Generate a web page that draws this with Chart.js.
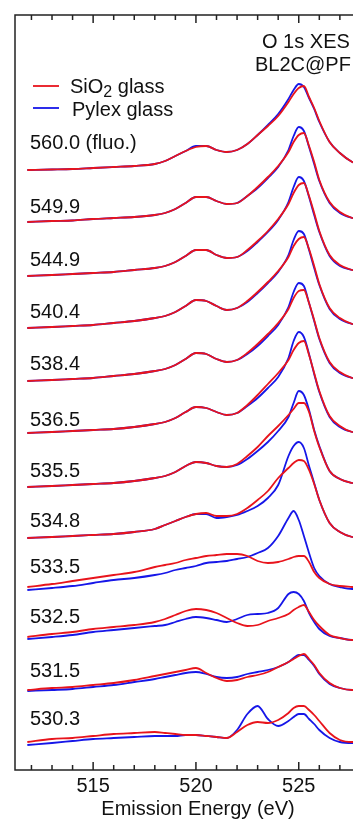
<!DOCTYPE html>
<html>
<head>
<meta charset="utf-8">
<script src="https://cdn.jsdelivr.net/npm/chart.js@4"></script>
<style>
  html, body { margin: 0; padding: 0; background: #fff; overflow: hidden; }
  #wrap { position: absolute; left: 0; top: 0; width: 400px; height: 819px; }
  canvas { display: block; }
</style>
</head>
<body>
<div id="wrap"><canvas id="xes" width="400" height="819"></canvas></div>
<script>
// emission energy grid (eV)
const energies = [511.8, 513, 514, 515, 516, 517, 518, 518.5, 519, 519.5, 520, 520.5, 521, 521.5, 522,
  522.5, 523, 523.5, 524, 524.5, 524.75, 525, 525.25, 525.5, 525.75, 526, 526.5, 527, 527.6, 528.2, 529];

// excitation energies, top to bottom
const excitation = ["560.0 (fluo.)", "549.9", "544.9", "540.4", "538.4", "536.5",
  "535.5", "534.8", "533.5", "532.5", "531.5", "530.3"];

// vertical offset of each spectrum (a.u.)
const offsets = [600, 548, 494, 442, 389, 337, 283, 232, 182, 132, 80, 28];

// SiO2 glass intensities (a.u., above offset)
const sio2 = [
  [0,0.5,1,2,3,4,6,9,14,19,23,24,20,18,20,26,35,44,54,68,76,82,84,73,62,49,28,17,8,4,2],
  [0,1,1.5,3,4,5,7,9,13,19,25,25,21,18,19,26,35,45,56,70,80,87,89,76,60,42,20,10,4,2,1],
  [0,1,2,3,4,6,8,10,14,20,26,26,21,18,19,26,35,45,57,72,83,91,93,80,63,45,21,11,6,3,1],
  [0,1,2,3,5,7,10,12,16,22,28,27,22,18,20,27,36,46,57,71,82,89,91,79,62,44,20,10,4,2,1],
  [0,1,2,3,5,7,10,12,16,22,28,27,22,19,21,28,37,47,58,72,83,90,91,78,61,43,19,9,3,1,0],
  [0,1,2,3,4,6,9,11,15,21,26,25,21,18,20,28,38,49,60,73,83,90,92,78,60,42,17,7,1,0,0],
  [0,1,2,3,4,6,9,11,15,21,25,24,21,20,23,31,40,51,61,72,78,84,84,75,56,40,16,8,4,2,1],
  [0,1,2,3,4,6,9,13,17,21,24,25,22,22,24,30,38,47,60,70,75,78,77,68,54,38,15,6,1,0,0],
  [1,4,7,10,13,16,21,23,25,28,30,32,33,34,34,32,27,25,26,29,31,32,32,26,16,10,4,2,1,0,0],
  [1,4,6,9,11,13,16,19,23,27,29,28,25,20,15,12,13,17,20,24,28,31,33,26,18,12,3,0,-2,-2,-2],
  [0,2,3,5,7,10,14,16,18,20,22,17,12,9,10,13,15,18,23,28,31,34,36,31,25,17,7,2,0,0,0],
  [0,3,4,6,8,9,10,9,8,7,7,6,5,4,10,17,20,19,22,29,34,36,36,32,27,21,9,2,0,0,0]
];

// Pylex glass intensities (a.u., above offset)
const pylex = [
  [0,0.5,1,2,3,4,6,9,14,19,24,24,20,18,20,26,35,45,56,71,80,86,83,72,61,48,28,17,8,4,2],
  [0,1,1.5,3,4,5,7,9,13,19,25,25,21,18,19,26,34,44,55,72,86,95,91,75,58,41,19,9,4,2,1],
  [0,1,2,3,4,6,8,10,14,20,26,26,21,18,19,25,34,44,56,74,89,99,95,79,61,44,20,10,6,3,1],
  [0,1,2,3,5,7,10,12,16,22,28,27,22,18,20,26,35,45,56,73,88,97,94,78,60,43,19,9,4,2,1],
  [0,1,2,3,5,7,10,12,16,22,28,27,22,19,21,27,35,45,56,74,89,98,95,78,60,42,18,8,3,1,0],
  [0,1,2,3,4,6,9,11,15,21,26,25,21,18,20,27,35,45,56,75,92,101,96,79,59,41,16,6,1,0,0],
  [0,1,2,3,4,6,9,11,15,21,25,24,21,20,22,28,36,45,56,70,84,96,92,77,57,41,16,8,4,2,1],
  [0,1,2,3,4,6,9,13,17,21,24,24,20,21,23,27,32,40,53,82,92,96,90,72,55,38,15,6,1,0,0],
  [-2,0,2,5,8,10,13,15,18,20,22,25,26,27,29,31,35,40,52,70,77,68,52,35,20,12,4,1,-1,-1,-1],
  [-1,1,3,6,8,10,12,13,16,19,21,20,18,16,19,23,24,25,30,44,46,44,37,25,16,9,2,0,-2,-2,-2],
  [-1,0,1,3,5,8,11,13,15,17,18,16,13,12,13,16,18,20,23,28,32,35,35,30,24,16,6,2,0,0,0],
  [-3,-1,1,3,4,5,6,6,6,7,7,6,5,4,12,28,36,23,16,21,25,28,28,23,18,12,4,0,-1,-1,-1]
];

const xTicks = [515, 520, 525];

const RED = "#e8141c";
const BLUE = "#1616e8";
const FONT = '"Liberation Sans", Arial, Helvetica, sans-serif';
// how far each excitation label sits above its spectrum (px)
const labelLift = [21, 9, 10, 10, 11, 7, 10, 11, 15, 15, 13, 17];

const datasets = [];
excitation.forEach((lab, i) => {
  datasets.push({
    label: "SiO2 glass " + lab,
    data: energies.map((e, k) => ({ x: e, y: offsets[i] + sio2[i][k] })),
    borderColor: RED,
    order: 0
  });
  datasets.push({
    label: "Pylex glass " + lab,
    data: energies.map((e, k) => ({ x: e, y: offsets[i] + pylex[i][k] })),
    borderColor: BLUE,
    order: 1
  });
});

const decor = {
  id: "decor",
  afterDraw(chart) {
    const { ctx, chartArea: a, scales: { x, y } } = chart;
    ctx.save();
    // frame + inside ticks
    ctx.strokeStyle = "#222";
    ctx.lineWidth = 1.5;
    ctx.strokeRect(a.left, a.top, a.right - a.left, a.bottom - a.top);
    ctx.beginPath();
    for (let v = Math.ceil(x.min); v <= x.max; v++) {
      const px = x.getPixelForValue(v);
      const len = v % 5 === 0 ? 8 : 5;
      ctx.moveTo(px, a.bottom); ctx.lineTo(px, a.bottom - len);
      ctx.moveTo(px, a.top); ctx.lineTo(px, a.top + len);
    }
    ctx.stroke();

    ctx.fillStyle = "#111";
    ctx.textBaseline = "alphabetic";
    ctx.font = "20px " + FONT;
    excitation.forEach((lab, i) => {
      ctx.fillText(lab, 30, y.getPixelForValue(offsets[i]) - labelLift[i]);
    });

    ctx.fillText("O 1s XES", 262, 48);
    ctx.fillText("BL2C@PF", 255, 71);

    // legend
    ctx.lineWidth = 1.8;
    ctx.strokeStyle = RED;
    ctx.beginPath(); ctx.moveTo(33, 86); ctx.lineTo(59, 86); ctx.stroke();
    ctx.strokeStyle = BLUE;
    ctx.beginPath(); ctx.moveTo(33, 108); ctx.lineTo(59, 108); ctx.stroke();
    let tx = 70;
    ctx.fillText("SiO", tx, 93);
    tx += ctx.measureText("SiO").width;
    ctx.font = "16px " + FONT;
    ctx.fillText("2", tx, 97);
    tx += ctx.measureText("2").width;
    ctx.font = "20px " + FONT;
    ctx.fillText(" glass", tx, 93);
    ctx.fillText("Pylex glass", 72, 116);
    ctx.restore();
  }
};

new Chart(document.getElementById("xes"), {
  type: "line",
  data: { datasets },
  options: {
    responsive: false,
    maintainAspectRatio: false,
    animation: false,
    devicePixelRatio: 1,
    layout: { padding: { left: 15, right: 19, top: 15, bottom: 0 } },
    elements: {
      line: { borderWidth: 1.8, cubicInterpolationMode: "monotone", fill: false },
      point: { radius: 0, hoverRadius: 0 }
    },
    plugins: { legend: { display: false }, tooltip: { enabled: false } },
    scales: {
      x: {
        type: "linear",
        min: 511.2,
        max: 529,
        afterBuildTicks: (s) => { s.ticks = xTicks.map((v) => ({ value: v })); },
        afterFit: (s) => { s.height = 49; },
        grid: { display: false, drawTicks: false },
        border: { display: false },
        ticks: { color: "#111", padding: 4, font: { size: 20, family: FONT } },
        title: {
          display: true,
          text: "Emission Energy (eV)",
          color: "#111",
          padding: 0,
          font: { size: 20, family: FONT, lineHeight: 1 }
        }
      },
      y: { display: false, min: 0, max: 755 }
    }
  },
  plugins: [decor]
});
</script>
</body>
</html>
